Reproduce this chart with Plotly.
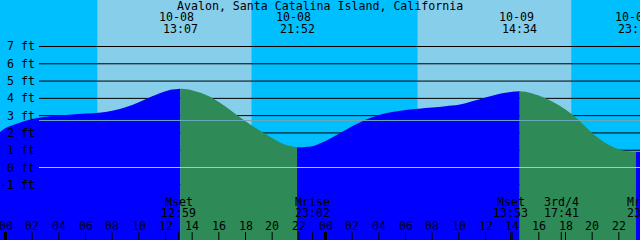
import plotly.graph_objects as go

# ---------------- data ----------------
title = "Avalon, Santa Catalina Island, California"

# hourly readings of the tide curve (hours from 10-08 00:00, feet)
sample_hours = [-0.5, 0, 1, 2, 3, 4, 5, 6, 7, 8, 9, 10, 11, 12, 12.5,
                13.75, 15, 16, 17, 18, 19, 20, 21,
                22.5, 23, 24, 25, 26, 27, 28, 29, 30, 31, 32, 33, 34, 35, 36, 37, 38,
                39, 40, 41, 42, 43, 44, 45, 46, 47, 47.75]
sample_ft = [1.99, 2.28, 2.58, 2.80, 2.93, 3.02, 3.07, 3.12, 3.17, 3.29, 3.49, 3.78, 4.12, 4.41, 4.51,
             4.51, 4.21, 3.79, 3.24, 2.68, 2.17, 1.71, 1.31,
             1.19, 1.23, 1.54, 1.95, 2.38, 2.76, 3.04, 3.21, 3.33, 3.40, 3.47, 3.55, 3.63, 3.83, 4.05, 4.25, 4.38,
             4.38, 4.16, 3.82, 3.36, 2.74, 1.99, 1.42, 1.06, 0.91, 0.91]

# high / low tide events
event_date = ["10-08", "10-08", "10-09", "10-09"]
event_time = ["13:07", "21:52", "14:34", "23:17"]
event_ft = [4.56, 1.17, 4.41, 0.89]

# moon events
moon_name = ["Mset", "Mrise", "Mset", "3rd/4", "Mrise"]
moon_date = ["10-08", "10-08", "10-09", "10-09", "10-09"]
moon_time = ["12:59", "23:02", "13:53", "17:41", "23:56"]

# sun events (day bands)
sunrise = ["10-08 06:53", "10-09 06:54"]
sunset = ["10-08 18:27", "10-09 18:26"]

y_ticks = [-1, 0, 1, 2, 3, 4, 5, 6, 7]
msl_ft = 2.72
hour_ticks = list(range(0, 48, 2))

# ---------------- style ----------------
NIGHT = "#00BFFF"
DAY = "#87CEEB"
RISE = "#0000FF"
FALL = "#2E8B57"
DATUM = "#8ECDEB"
MSLC = "#6AA8B8"
FONT = "DejaVu Sans Mono"
FS = 11.6
W, H = 640, 240
X0, X1 = -0.4125, 47.5875
Y0, Y1 = -4.194, 9.690


def to_h(date, hm):
    d = int(date.split("-")[1]) - 8
    hh, mm = hm.split(":")
    return d * 24 + int(hh) + int(mm) / 60.0


def stamp(s):
    date, hm = s.split(" ")
    return to_h(date, hm)


ev_h = [to_h(d, t) for d, t in zip(event_date, event_time)]
moon_h = [to_h(d, t) for d, t in zip(moon_date, moon_time)]

pts = sorted(list(zip(sample_hours, sample_ft)) + list(zip(ev_h, event_ft)))
bounds = [-1e9] + ev_h + [1e9]

fig = go.Figure()

# tide fill segments: rising = blue, falling = green
first_rising = event_ft[0] > event_ft[1]
for i in range(len(bounds) - 1):
    a, b = bounds[i], bounds[i + 1]
    seg = [(x, y) for x, y in pts if a <= x <= b]
    if len(seg) < 2:
        continue
    rising = (i % 2 == 0) == first_rising
    xs = [p[0] for p in seg]
    ys = [p[1] for p in seg]
    fig.add_trace(go.Scatter(x=xs, y=[Y0 - 1] * len(xs), mode="lines",
                             line=dict(width=0), hoverinfo="skip", showlegend=False))
    fig.add_trace(go.Scatter(x=xs, y=ys, mode="lines", line=dict(width=0, shape="spline"),
                             fill="tonexty", fillcolor=RISE if rising else FALL,
                             hoverinfo="skip", showlegend=False))

shapes = []
for sr, ss in zip(sunrise, sunset):
    shapes.append(dict(type="rect", xref="x", yref="paper", x0=stamp(sr), x1=stamp(ss),
                       y0=0, y1=1, fillcolor=DAY, line=dict(width=0), layer="below"))
for v in y_ticks:
    shapes.append(dict(type="line", xref="paper", yref="y", x0=39 / W, x1=1, y0=v, y1=v,
                       line=dict(color="black", width=1), layer="below"))
shapes.append(dict(type="line", xref="paper", yref="y", x0=39 / W, x1=1, y0=0, y1=0,
                   line=dict(color=DATUM, width=1), layer="above"))
shapes.append(dict(type="line", xref="paper", yref="y", x0=39 / W, x1=1, y0=msl_ft, y1=msl_ft,
                   line=dict(color=MSLC, width=1), layer="above"))
for h in hour_ticks:
    shapes.append(dict(type="line", xref="x", yref="paper", x0=h, x1=h, y0=0, y1=8 / H,
                       line=dict(color="black", width=3 if h % 24 == 0 else 1), layer="above"))
for h in moon_h:
    if X0 <= h <= X1:
        shapes.append(dict(type="line", xref="x", yref="paper", x0=h, x1=h, y0=0, y1=8 / H,
                           line=dict(color="black", width=1), layer="above"))

ann = []


def txt(x, xref, ypx, s, xanchor="center", xshift=0):
    if xref == "x" and not (X0 <= x <= X1):
        # label anchored just beyond the right edge: place it in paper units
        x = (x - X0) / (X1 - X0)
        xref = "paper"
    ann.append(dict(x=x, xref=xref, y=1 - ypx / H, yref="paper", text=s, showarrow=False,
                    xanchor=xanchor, yanchor="middle", xshift=xshift, borderpad=0,
                    font=dict(family=FONT, size=FS, color="black")))


txt(0.5, "paper", 5.5, title)
for h, d, t in zip(ev_h, event_date, event_time):
    txt(h, "x", 17.5, d, xshift=-3.5)
    txt(h, "x", 29.3, t)
for h, n, t in zip(moon_h, moon_name, moon_time):
    txt(h, "x", 201.5, n)
    txt(h, "x", 213.3, t)
for h in hour_ticks:
    txt(h, "x", 226, "%02d" % (h % 24))
for v in y_ticks:
    txt(35.7 / W, "paper", 167.5 - 17.286 * v, "%d ft" % v, xanchor="right")

fig.update_layout(
    width=W, height=H, margin=dict(l=0, r=0, t=0, b=0), autosize=False,
    plot_bgcolor=NIGHT, paper_bgcolor=NIGHT, showlegend=False,
    xaxis=dict(range=[X0, X1], visible=False, fixedrange=True),
    yaxis=dict(range=[Y0, Y1], visible=False, fixedrange=True),
    shapes=shapes, annotations=ann,
)
fig.write_html("out.html")
